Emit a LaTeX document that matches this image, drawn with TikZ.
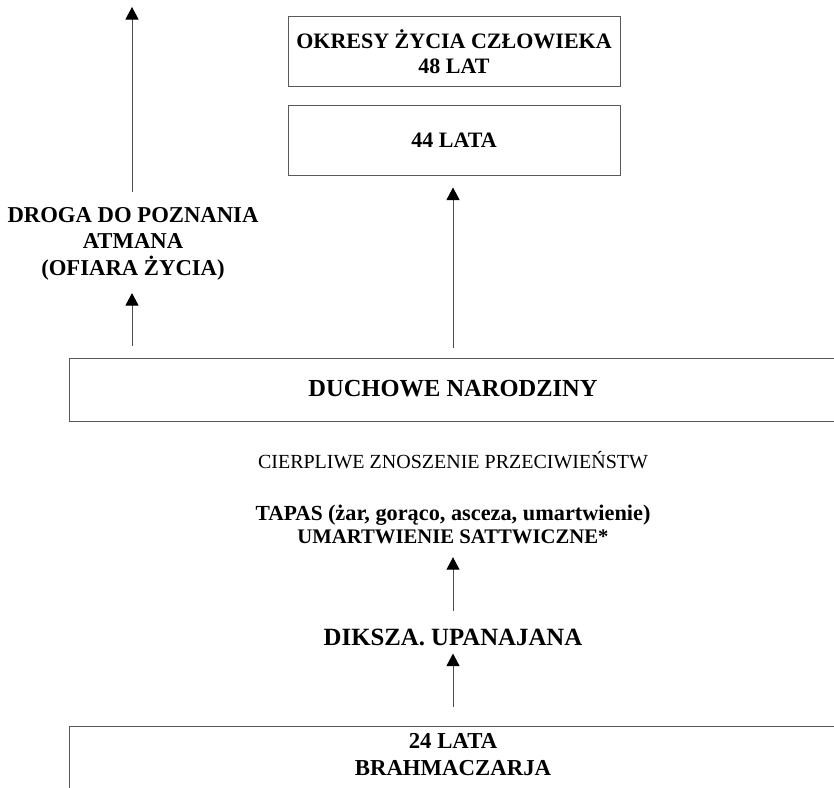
\documentclass[tikz,border=0pt]{standalone}
\usepackage{fontspec}
\setmainfont{Liberation Serif}
\usetikzlibrary{arrows.meta}
% font size with explicit baseline skip
\newcommand\fsz[2]{\fontsize{#1}{#2}\selectfont}

\begin{document}
\begin{tikzpicture}[x=1pt,y=-1pt,
  frame/.style={draw=black!65, line width=1pt, inner sep=0pt, font=\bfseries},
  txt/.style={inner sep=0pt, font=\bfseries, anchor=base},
  arr/.style={draw=black!70, line width=1pt,
    -{Triangle[width=13pt,length=12.5pt,color=black]}},
]
\useasboundingbox (0,0) rectangle (834,787);
\clip (0,0) rectangle (834,787);

% upper stages
\node[frame, minimum width=332pt, minimum height=70pt, text height=15pt, text depth=20pt]
  (okresy) at (454,51)
  {\fsz{22}{25}\begin{tabular}[t]{@{}c@{}}OKRESY ŻYCIA CZŁOWIEKA\\48 LAT\end{tabular}};
\node[frame, minimum width=332pt, minimum height=70pt, text height=15pt, text depth=0pt]
  (lat44) at (454,140) {\fsz{22}{25}44 LATA};

% path to the Atman
\coordinate (top) at (132,7);
\node[txt] (droga) at (133,222)
  {\fsz{22.7}{26.5}\begin{tabular}[t]{@{}c@{}}DROGA DO POZNANIA\\ATMANA\\(OFIARA ŻYCIA)\end{tabular}};

% spiritual birth
\node[frame, minimum width=768pt, minimum height=63pt, text height=16pt, text depth=2pt]
  (duchowe) at (453,389.5) {\fsz{24.5}{28}DUCHOWE NARODZINY};

\node[txt, font=\mdseries] (cierp) at (453,468)
  {\fsz{20}{24}CIERPLIWE ZNOSZENIE PRZECIWIEŃSTW};

\node[txt] (tapas) at (453,520)
  {\fsz{20.7}{23.3}\begin{tabular}[t]{@{}c@{}}{\fsz{21.5}{23.3}TAPAS} {\fsz{22.3}{23.3}(żar, gorąco, asceza, umartwienie)}\\
   UMARTWIENIE SATTWICZNE*\end{tabular}};

\node[txt] (diksza) at (453,645) {\fsz{24.8}{28}DIKSZA. UPANAJANA};

% first stage
\node[frame, minimum width=768pt, minimum height=120pt] (brahmabox) at (453,786) {};
\node[txt] (brahma) at (453,748)
  {\fsz{22.8}{27}\begin{tabular}[t]{@{}c@{}}24 LATA\\BRAHMACZARJA\end{tabular}};

% connectors
\draw[arr, shorten <=19pt, shorten >=8pt] (brahmabox.north) -- (diksza.south);
\draw[arr, shorten <=17.6pt, shorten >=6.7pt] (diksza.north) -- (tapas.south);
\draw[arr, shorten <=10pt, shorten >=12pt] (duchowe.north) -- (duchowe.north |- lat44.south);
\draw[arr, shorten <=12pt, shorten >=9pt] (duchowe.north -| top) -- (droga.south -| top);
\draw[arr, shorten <=11pt] (droga.north -| top) -- (top);
\end{tikzpicture}
\end{document}
